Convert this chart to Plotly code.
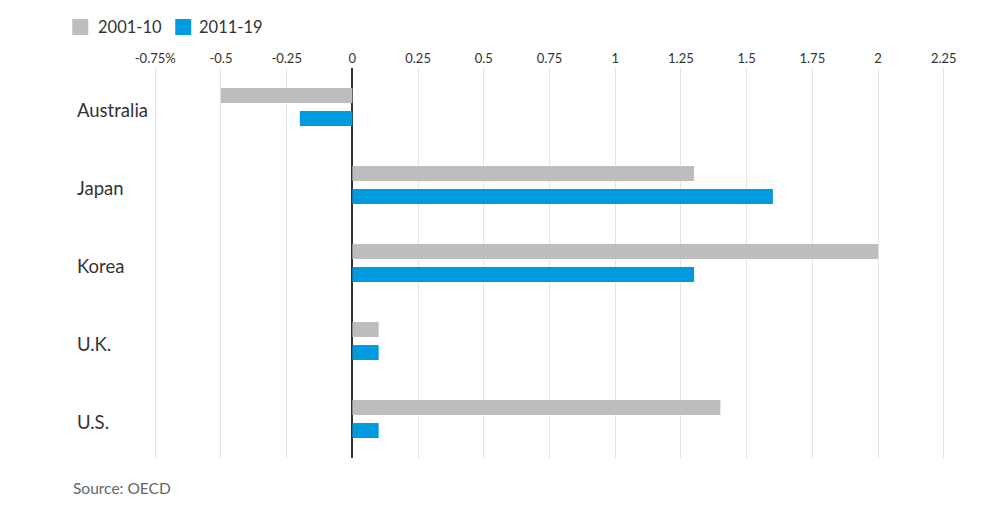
import plotly.graph_objects as go

categories = ["Australia", "Japan", "Korea", "U.K.", "U.S."]
series_2001_10 = [-0.5, 1.3, 2.0, 0.1, 1.4]
series_2011_19 = [-0.2, 1.6, 1.3, 0.1, 0.1]
series_names = ["2001-10", "2011-19"]
tick_vals = [-0.75, -0.5, -0.25, 0, 0.25, 0.5, 0.75, 1, 1.25, 1.5, 1.75, 2, 2.25]
tick_text = ["-0.75%", "-0.5", "-0.25", "0", "0.25", "0.5", "0.75", "1", "1.25", "1.5", "1.75", "2", "2.25"]
colors = ["#bdbdbd", "#009ade"]

FONT = "Lato, 'Noto Sans', sans-serif"
W, H = 993, 505
UNIT = 789 / 3.0          # pixels per 1.0 on x axis
PAD = 0.02                # extra range so edge gridlines are drawn
ML = 155 - PAD * UNIT
PW = (3.0 + 2 * PAD) * UNIT
MR = W - ML - PW
MT, MB = 68, 47
PH = H - MT - MB


def px_x(p):
    return (p - ML) / PW


def px_y(p):
    return (H - MB - p) / PH


fig = go.Figure()
fig.add_trace(go.Bar(y=categories, x=series_2001_10, orientation="h", name=series_names[0],
                     marker=dict(color=colors[0], line=dict(width=0))))
fig.add_trace(go.Bar(y=categories, x=series_2011_19, orientation="h", name=series_names[1],
                     marker=dict(color=colors[1], line=dict(width=0))))

fig.update_layout(
    width=W, height=H,
    margin=dict(l=ML, r=MR, t=MT, b=MB, pad=0, autoexpand=False),
    paper_bgcolor="white", plot_bgcolor="white",
    barmode="group", bargap=0.41, bargroupgap=0.35,
    font=dict(family=FONT, color="#333333"),
    showlegend=False,
    xaxis=dict(side="top", range=[-0.75 - PAD, 2.25 + PAD], tickvals=tick_vals, ticktext=tick_text,
               showgrid=True, gridcolor="#e3e3e3", gridwidth=1,
               zeroline=True, zerolinecolor="#333333", zerolinewidth=1.5,
               showline=False, ticks="", tickfont=dict(size=13, color="#333333"),
               ticklabelstandoff=1, fixedrange=True),
    yaxis=dict(autorange="reversed", showticklabels=False, showgrid=False,
               zeroline=False, showline=False, ticks="", fixedrange=True),
)

for c in categories:
    fig.add_annotation(x=px_x(75), xref="paper", y=c, yref="y", yshift=-3,
                       text=c, showarrow=False, xanchor="left", yanchor="middle",
                       font=dict(size=18.5, color="#333333", family=FONT))

# legend drawn manually
legend_items = [(72, 96), (175, 197)]
for (sx, tx), name, col in zip(legend_items, series_names, colors):
    fig.add_shape(type="rect", xref="paper", yref="paper",
                  x0=px_x(sx), x1=px_x(sx + 16), y0=px_y(35), y1=px_y(19),
                  fillcolor=col, line=dict(width=0))
    fig.add_annotation(x=px_x(tx), xref="paper", y=px_y(27), yref="paper",
                       text=name, showarrow=False, xanchor="left", yanchor="middle",
                       font=dict(size=16.5, color="#333333", family=FONT))

fig.add_annotation(x=px_x(71), xref="paper", y=px_y(488), yref="paper",
                   text="Source: OECD", showarrow=False,
                   xanchor="left", yanchor="middle",
                   font=dict(size=15.5, color="#666666", family=FONT))

fig.write_html("out.html")
